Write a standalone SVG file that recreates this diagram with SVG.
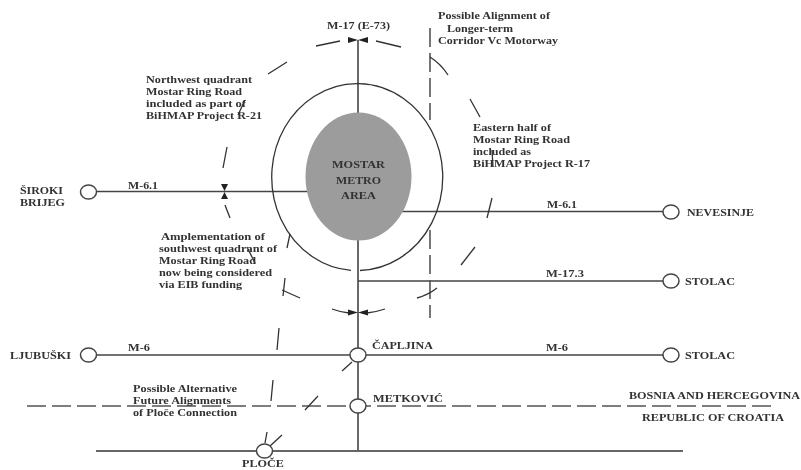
<svg xmlns="http://www.w3.org/2000/svg" width="801" height="470" viewBox="0 0 801 470">
<style>
text{font-family:"Liberation Serif","Times New Roman",serif;font-weight:bold;font-size:10.4px;fill:#333}
.r{fill:none;stroke:#444;stroke-width:1.6}
.t{fill:none;stroke:#333;stroke-width:1.3}
.d{fill:none;stroke:#555;stroke-width:1.6;stroke-dasharray:19 6}
.c{fill:#fff;stroke:#444;stroke-width:1.5}
.h{fill:#222}
</style>
<defs><filter id="b" x="0" y="0" width="100%" height="100%"><feGaussianBlur stdDeviation="0.4"/></filter></defs>
<rect width="801" height="470" fill="#fff"/>
<g filter="url(#b)">
<g id="connectors">
<path class="r" d="M358 40V114M358 240V451M96 191.500H307M400 211.500H663M358 281H663M96 355H663"/>
<path d="M96 451H683" fill="none" stroke="#666" stroke-width="2"/>
<path class="d" d="M430 28V120M430 230V318M27 406H775"/>
<path class="t" d="M316 46L340 41M376 41L401 47M287 62L268 74M430 57Q441 64 448 75M470 99L480 117M492 150L493 167M492 198L487 218M475 247L461 265M437 288Q428 295 417 298M245 100L238 115M227 147L223 168M225 205L230 218M290 234L287 248M247 247L255 263M285 278L283 296M282 290L300 298M279 328L277 350M273 380L271 401M318 396L305 410M352 362L342 371M267 432L265 443M282 435L270 446"/>
<path class="t" d="M332 309Q340 312 349 313M367 313Q376 312 385 309"/>
<path class="h" d="M348 37L358 40L348 43ZM368 37L358 40L368 43ZM348 309.500L358 312.500L348 315.500ZM368 309.500L358 312.500L368 315.500ZM221 184H228L224.500 191ZM221 199H228L224.500 192Z"/>
</g>
<g id="ring-road"><path d="M360 270.500A85.500 93.500 0 1 0 351 270.300" fill="none" stroke="#333" stroke-width="1.300"/></g>
<g id="node-mostar">
<ellipse cx="358.500" cy="176.500" rx="53" ry="64" fill="#9c9c9c"/>
<text x="358.500" y="168" text-anchor="middle" textLength="53" lengthAdjust="spacingAndGlyphs">MOSTAR</text>
<text x="358.500" y="184" text-anchor="middle" textLength="45" lengthAdjust="spacingAndGlyphs">METRO</text>
<text x="358.500" y="199" text-anchor="middle" textLength="35" lengthAdjust="spacingAndGlyphs">AREA</text>
</g>
<g id="node-siroki"><ellipse class="c" cx="88.500" cy="192" rx="8" ry="7"/><text x="20" y="194" textLength="43" lengthAdjust="spacingAndGlyphs">ŠIROKI</text><text x="20" y="206" textLength="45" lengthAdjust="spacingAndGlyphs">BRIJEG</text></g>
<g id="node-nevesinje"><ellipse class="c" cx="671" cy="212" rx="8" ry="7"/><text x="687" y="216" textLength="67" lengthAdjust="spacingAndGlyphs">NEVESINJE</text></g>
<g id="node-stolac-1"><ellipse class="c" cx="671" cy="281" rx="8" ry="7"/><text x="685" y="285" textLength="50" lengthAdjust="spacingAndGlyphs">STOLAC</text></g>
<g id="node-stolac-2"><ellipse class="c" cx="671" cy="355" rx="8" ry="7"/><text x="685" y="359" textLength="50" lengthAdjust="spacingAndGlyphs">STOLAC</text></g>
<g id="node-ljubuski"><ellipse class="c" cx="88.500" cy="355" rx="8" ry="7"/><text x="10" y="359" textLength="61" lengthAdjust="spacingAndGlyphs">LJUBUŠKI</text></g>
<g id="node-capljina"><ellipse class="c" cx="358" cy="355" rx="8" ry="7"/><text x="372" y="349" textLength="61" lengthAdjust="spacingAndGlyphs">ČAPLJINA</text></g>
<g id="node-metkovic"><ellipse class="c" cx="358" cy="406" rx="8" ry="7"/><text x="373" y="402" textLength="70" lengthAdjust="spacingAndGlyphs">METKOVIĆ</text></g>
<g id="node-ploce"><ellipse class="c" cx="264.500" cy="451" rx="8" ry="7"/><text x="242" y="467" textLength="42" lengthAdjust="spacingAndGlyphs">PLOČE</text></g>
<g id="labels">
<text x="327" y="29" textLength="63" lengthAdjust="spacingAndGlyphs">M-17 (E-73)</text>
<text x="438" y="19" textLength="112" lengthAdjust="spacingAndGlyphs">Possible Alignment of</text>
<text x="447" y="32" textLength="66" lengthAdjust="spacingAndGlyphs">Longer-term</text>
<text x="438" y="44" textLength="120" lengthAdjust="spacingAndGlyphs">Corridor Vc Motorway</text>
<text x="146" y="83" textLength="106" lengthAdjust="spacingAndGlyphs">Northwest quadrant</text>
<text x="146" y="95" textLength="96" lengthAdjust="spacingAndGlyphs">Mostar Ring Road</text>
<text x="146" y="107" textLength="100" lengthAdjust="spacingAndGlyphs">included as part of</text>
<text x="146" y="119" textLength="116" lengthAdjust="spacingAndGlyphs">BiHMAP Project R-21</text>
<text x="473" y="131" textLength="78" lengthAdjust="spacingAndGlyphs">Eastern half of</text>
<text x="473" y="143" textLength="97" lengthAdjust="spacingAndGlyphs">Mostar Ring Road</text>
<text x="473" y="155" textLength="58" lengthAdjust="spacingAndGlyphs">included as</text>
<text x="473" y="167" textLength="117" lengthAdjust="spacingAndGlyphs">BiHMAP Project R-17</text>
<text x="128" y="189" textLength="30" lengthAdjust="spacingAndGlyphs">M-6.1</text>
<text x="547" y="208" textLength="30" lengthAdjust="spacingAndGlyphs">M-6.1</text>
<text x="546" y="277" textLength="38" lengthAdjust="spacingAndGlyphs">M-17.3</text>
<text x="128" y="351" textLength="22" lengthAdjust="spacingAndGlyphs">M-6</text>
<text x="546" y="351" textLength="22" lengthAdjust="spacingAndGlyphs">M-6</text>
<text x="161" y="240" textLength="104" lengthAdjust="spacingAndGlyphs">Amplementation of</text>
<text x="159" y="252" textLength="118" lengthAdjust="spacingAndGlyphs">southwest quadrant of</text>
<text x="159" y="264" textLength="97" lengthAdjust="spacingAndGlyphs">Mostar Ring Road</text>
<text x="159" y="276" textLength="113" lengthAdjust="spacingAndGlyphs">now being considered</text>
<text x="159" y="288" textLength="83" lengthAdjust="spacingAndGlyphs">via EIB funding</text>
<text x="133" y="392" textLength="104" lengthAdjust="spacingAndGlyphs">Possible Alternative</text>
<text x="133" y="404" textLength="98" lengthAdjust="spacingAndGlyphs">Future Alignments</text>
<text x="133" y="416" textLength="104" lengthAdjust="spacingAndGlyphs">of Ploče Connection</text>
<text x="629" y="399" textLength="171" lengthAdjust="spacingAndGlyphs">BOSNIA AND HERCEGOVINA</text>
<text x="642" y="421" textLength="142" lengthAdjust="spacingAndGlyphs">REPUBLIC OF CROATIA</text>
</g>
</g>
</svg>
